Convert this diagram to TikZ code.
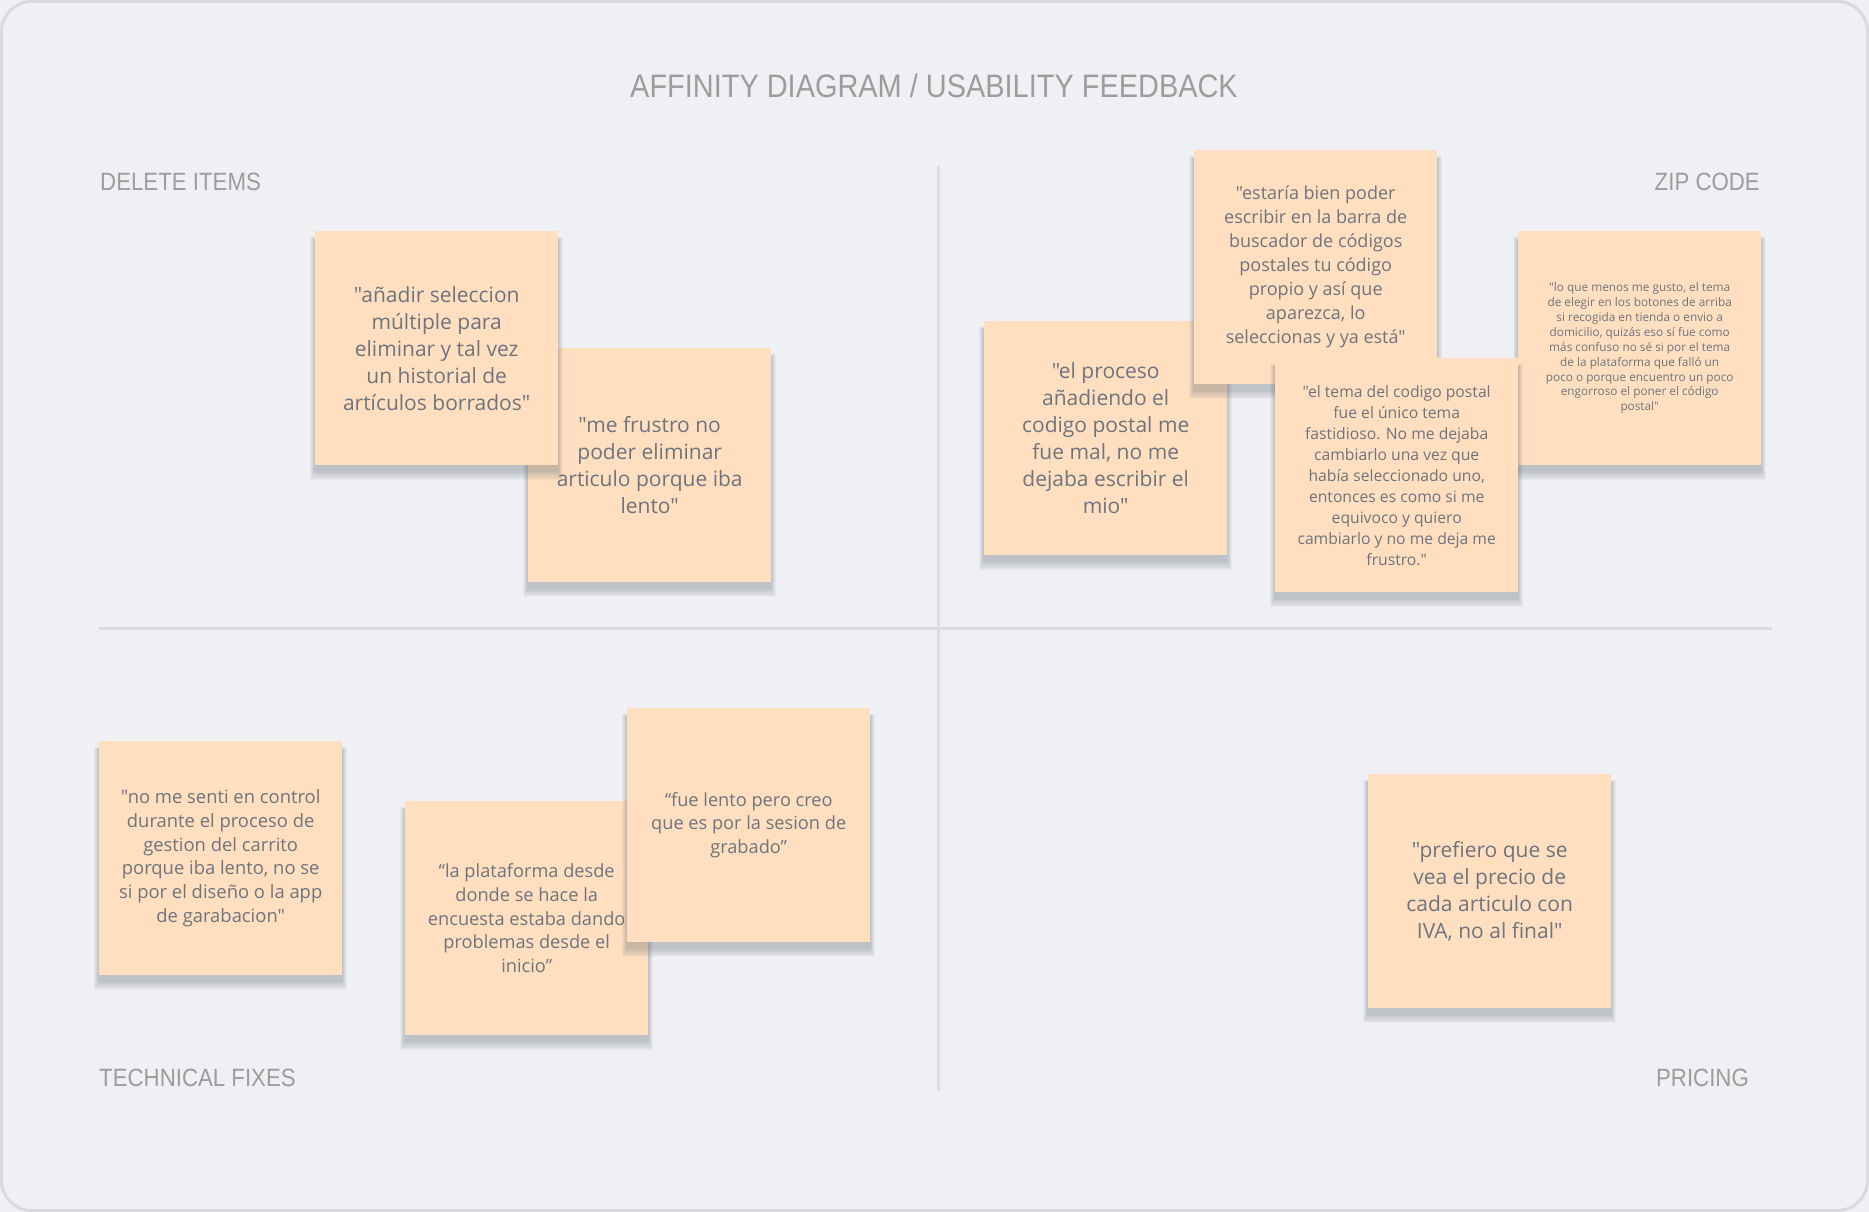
\documentclass[tikz,border=0pt]{standalone}
\usepackage{fontspec}
\setmainfont{Open Sans}[Ligatures=TeXOff]
\newfontfamily\labelfont[FakeStretch=0.89]{Liberation Sans}
\definecolor{bgc}{HTML}{EFF0F3}
\definecolor{framec}{HTML}{D9DADD}
\definecolor{divc}{HTML}{DCDDE0}
\definecolor{labelc}{HTML}{9C9C9C}
\definecolor{notec}{HTML}{FFDFC0}
\definecolor{notetext}{HTML}{6E747D}
\definecolor{shadowc}{HTML}{6A707A}
\tikzset{
  stickybox/.style={fill=notec, minimum width=243pt, minimum height=234pt, inner sep=0pt, align=center, text=notetext},
  quadlabel/.style={font=\labelfont\fontsize{25}{25}\selectfont, text=labelc, inner sep=0pt},
  divider/.style={draw=divc, line width=3pt}
}
\newcommand\stickynote[6]{%
  \foreach \k in {1,...,8}{\fill[shadowc,opacity=0.05] ({#2-\k*0.6},{#3+9-\k*0.4}) rectangle ({#2+243+\k*0.6},{#3+240+\k*1.1});}
  \node[stickybox,font=\fontsize{#4}{#5}\selectfont,anchor=north west] (#1) at (#2,#3) {#6};
}
\begin{document}
\begin{tikzpicture}[x=1pt,y=-1pt]
\useasboundingbox (0,0) rectangle (1869,1212);
\fill[bgc] (0,0) rectangle (1869,1212);
\draw[framec, line width=3pt, fill=bgc, rounded corners=30pt] (1.5,1.5) rectangle (1867.5,1210.5);

% title and quadrant labels
\node[quadlabel, font=\labelfont\fontsize{32.5}{32.5}\selectfont, anchor=base] (title) at (934,98) {AFFINITY DIAGRAM / USABILITY FEEDBACK};
\node[quadlabel, anchor=base west] (ldel) at (100,190) {DELETE ITEMS};
\node[quadlabel, anchor=base east] (lzip) at (1760,190) {ZIP CODE};
\node[quadlabel, anchor=base west] (ltech) at (99,1086) {TECHNICAL FIXES};
\node[quadlabel, anchor=base east] (lprice) at (1749,1086) {PRICING};

% dividers
\coordinate (vtop) at (938,166);
\coordinate (vbot) at (938,1091);
\coordinate (hleft) at (99,628);
\coordinate (hright) at (1772,628);
\draw[divider] (vtop) -- (vbot);
\draw[divider] (hleft) -- (hright);

% DELETE ITEMS
\stickynote{n2}{528}{348}{21}{27}{"me frustro no\\poder eliminar\\articulo porque iba\\lento"}
\stickynote{n1}{315}{231}{21}{27}{"añadir seleccion\\múltiple para\\eliminar y tal vez\\un historial de\\artículos borrados"}

% ZIP CODE
\stickynote{n3}{984}{321}{21}{27}{"el proceso\\añadiendo el\\codigo postal me\\fue mal, no me\\dejaba escribir el\\mio"}
\stickynote{n4}{1194}{150}{18}{24}{"estaría bien poder\\escribir en la barra de\\buscador de códigos\\postales tu código\\propio y así que\\aparezca, lo\\seleccionas y ya está"}
\stickynote{n6}{1518}{231}{11.8}{14.9}{"lo que menos me gusto, el tema\\de elegir en los botones de arriba\\si recogida en tienda o envio a\\domicilio, quizás eso sí fue como\\más confuso no sé si por el tema\\de la plataforma que falló un\\poco o porque encuentro un poco\\engorroso el poner el código\\postal"}
\stickynote{n5}{1275}{358}{15.7}{21}{"el tema del codigo postal\\fue el único tema\\fastidioso. No me dejaba\\cambiarlo una vez que\\había seleccionado uno,\\entonces es como si me\\equivoco y quiero\\cambiarlo y no me deja me\\frustro."}

% TECHNICAL FIXES
\stickynote{n7}{99}{741}{18.4}{23.8}{"no me senti en control\\durante el proceso de\\gestion del carrito\\porque iba lento, no se\\si por el diseño o la app\\de garabacion"}
\stickynote{n8}{405}{801}{18.2}{23.8}{“la plataforma desde\\donde se hace la\\encuesta estaba dando\\problemas desde el\\inicio”}
\stickynote{n9}{627}{708}{18.2}{23.8}{“fue lento pero creo\\que es por la sesion de\\grabado”}

% PRICING
\stickynote{n10}{1368}{774}{21}{27}{"prefiero que se\\vea el precio de\\cada articulo con\\IVA, no al final"}
\end{tikzpicture}
\end{document}
